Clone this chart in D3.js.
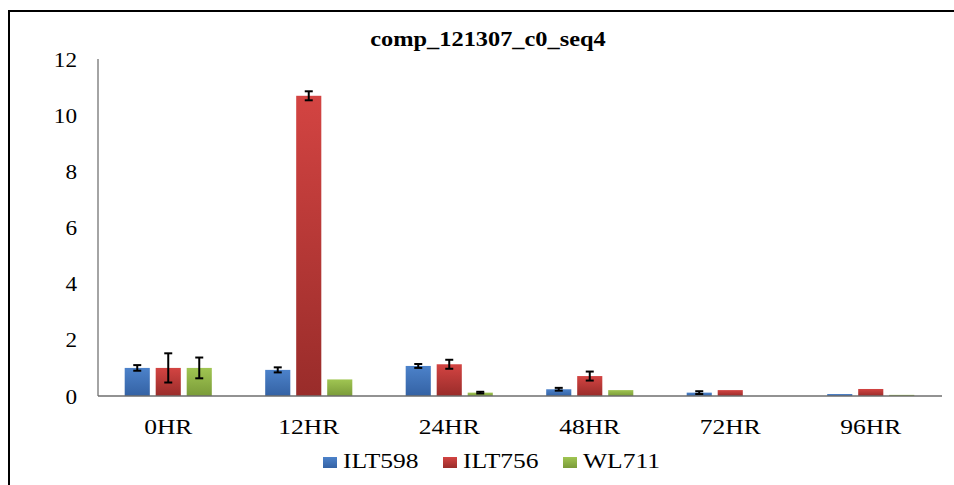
<!DOCTYPE html>
<html><head><meta charset="utf-8">
<script src="https://cdn.jsdelivr.net/npm/d3@7"></script>
<style>body{margin:0;background:#fff}svg{display:block}</style>
</head><body>
<svg id="c" width="954" height="485"></svg>
<script>
const categories = ["0HR","12HR","24HR","48HR","72HR","96HR"];
const seriesNames = ["ILT598","ILT756","WL711"];
const ILT598 = [1.0, 0.93, 1.07, 0.24, 0.12, 0.07];
const ILT598err = [0.1, 0.09, 0.07, 0.05, 0.05, 0];
const ILT756 = [1.0, 10.69, 1.13, 0.71, 0.21, 0.25];
const ILT756err = [0.52, 0.16, 0.16, 0.16, 0, 0];
const WL711 = [1.0, 0.59, 0.12, 0.21, 0, 0.04];
const WL711err = [0.37, 0, 0.03, 0, 0, 0];
const yTicks = [0,2,4,6,8,10,12];
const title = "comp_121307_c0_seq4";

const values = [ILT598, ILT756, WL711];
const errs = [ILT598err, ILT756err, WL711err];
const grads = [["#4c82ca","#3462a4"],["#d34442","#992c2a"],["#a0c552","#7a9b39"]];
const SX = 1.16;
const FONT = "'Liberation Serif','Times New Roman',serif";

const svg = d3.select("#c");
const defs = svg.append("defs");
grads.forEach((g,i)=>{
  const lg = defs.append("linearGradient").attr("id","g"+i).attr("x1",0).attr("y1",0).attr("x2",0).attr("y2",1);
  lg.append("stop").attr("offset","0%").attr("stop-color",g[0]);
  lg.append("stop").attr("offset","100%").attr("stop-color",g[1]);
});

// frame
svg.append("line").attr("x1",9).attr("x2",9).attr("y1",10).attr("y2",485).attr("stroke","#000").attr("stroke-width",2);
svg.append("line").attr("x1",8).attr("x2",954).attr("y1",11).attr("y2",11).attr("stroke","#000").attr("stroke-width",2);

const x0 = d3.scaleBand().domain(categories).range([98,941]).paddingInner(0.38).paddingOuter(0.19);
const x1 = d3.scaleBand().domain(seriesNames).range([0,x0.bandwidth()]).paddingInner(0.19);
const y = d3.scaleLinear().domain([0,12]).range([396,59]);

// title
svg.append("text").attr("transform",`translate(488,46) scale(${SX},1)`)
  .attr("text-anchor","middle").attr("font-family",FONT).attr("font-weight","bold")
  .attr("font-size",21).attr("fill","#000").text(title);

// y axis
const ya = svg.append("g").attr("transform","translate(98,0)")
  .call(d3.axisLeft(y).tickValues(yTicks).tickSize(0).tickFormat(d3.format("d")));
ya.select(".domain").remove();
ya.selectAll("text").attr("x",0).attr("dy","0.35em")
  .attr("transform",`translate(-21,0) scale(${SX},1)`)
  .attr("font-family",FONT).attr("font-size",20).attr("fill","#000");

// bars
const groups = svg.append("g").selectAll("g").data(categories).join("g")
  .attr("transform",d=>`translate(${x0(d)},0)`);
seriesNames.forEach((s,si)=>{
  groups.append("rect")
    .attr("x",x1(s)).attr("width",x1.bandwidth())
    .attr("y",(d,i)=>y(values[si][i]))
    .attr("height",(d,i)=>y(0)-y(values[si][i]))
    .attr("fill",`url(#g${si})`);
});
// error bars
seriesNames.forEach((s,si)=>{
  groups.each(function(d,i){
    const e = errs[si][i];
    if(!e) return;
    const v = values[si][i];
    const cx = x1(s)+x1.bandwidth()/2;
    const g = d3.select(this).append("g").attr("stroke","#000").attr("stroke-width",2);
    g.append("line").attr("x1",cx).attr("x2",cx).attr("y1",y(v+e)).attr("y2",y(Math.max(0,v-e)));
    g.append("line").attr("x1",cx-4).attr("x2",cx+4).attr("y1",y(v+e)).attr("y2",y(v+e));
    g.append("line").attr("x1",cx-4).attr("x2",cx+4).attr("y1",y(Math.max(0,v-e))).attr("y2",y(Math.max(0,v-e)));
  });
});

// axis lines
svg.append("line").attr("x1",98).attr("x2",98).attr("y1",y(12)).attr("y2",y(0)).attr("stroke","#868686").attr("stroke-width",1.5);
svg.append("line").attr("x1",98).attr("x2",942).attr("y1",y(0)).attr("y2",y(0)).attr("stroke","#6e6e6e").attr("stroke-width",1.5);

// x labels
const xa = svg.append("g").attr("transform",`translate(0,${y(0)})`)
  .call(d3.axisBottom(x0).tickSize(0));
xa.select(".domain").remove();
xa.selectAll("text").attr("y",0).attr("dy",0)
  .attr("transform",`translate(0,38) scale(${SX},1)`)
  .attr("x",0)
  .attr("font-family",FONT).attr("font-size",22).attr("fill","#000");
xa.selectAll(".tick text").each(function(){
  const t = d3.select(this.parentNode).attr("transform");
});

// legend
const legX = [323,443,563];
const leg = svg.append("g");
seriesNames.forEach((s,i)=>{
  leg.append("rect").attr("x",legX[i]).attr("y",457).attr("width",14).attr("height",11).attr("fill",`url(#g${i})`);
  leg.append("text").attr("transform",`translate(${legX[i]+20},468) scale(${SX},1)`)
    .attr("font-family",FONT).attr("font-size",22).attr("fill","#000").text(s);
});
</script>
</body></html>
